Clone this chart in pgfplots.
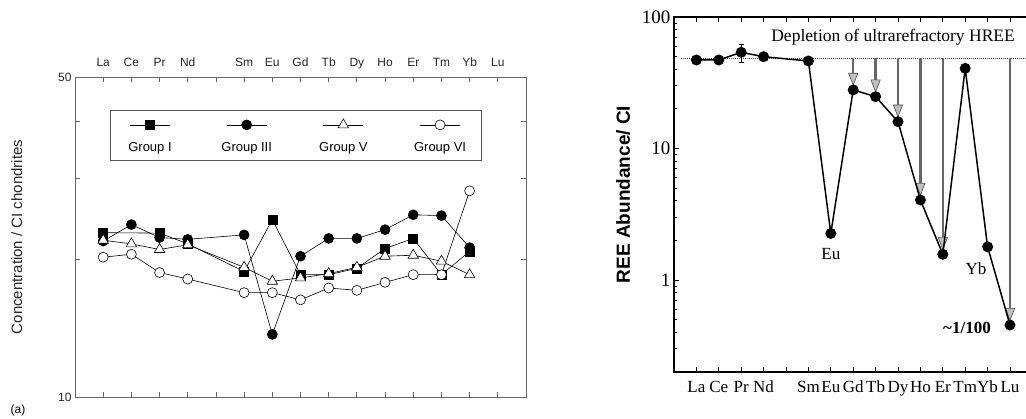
\documentclass[border=0pt]{standalone}
\usepackage{fontspec}
\setmainfont{Liberation Sans}
\newfontfamily\serif{Liberation Serif}
\usepackage{pgfplots}
\usepackage{pgfplotstable}
\pgfplotsset{compat=1.18}
\usetikzlibrary{arrows.meta}

% (a) chondrite-normalised REE, four groups
\pgfplotstableread{
x   gI     gIII   gV     gVI
1   22.85  21.9   22.0   20.2
2   nan    23.8   21.6   20.5
3   22.8   22.3   21.0   18.7
4   21.6   22.1   21.5   18.1
6   18.8   22.6   19.2   16.9
7   24.4   13.7   17.9   16.9
8   18.5   20.3   18.2   16.3
9   18.5   22.2   18.6   17.3
10  19.1   22.2   19.2   17.1
11  21.1   23.2   20.3   17.8
12  22.2   25.0   20.4   18.5
13  18.5   24.9   19.8   18.5
14  20.8   21.2   18.5   28.2
}\groupdata

\pgfplotsset{
  grp legend/.style={legend image code/.code={
    \path[draw=none, fill=none] (-40pt,-20pt) rectangle (40pt,20pt);
    \draw[mark repeat=2,mark phase=2,##1] plot coordinates {(-20pt,11pt) (0pt,11pt) (20pt,11pt)};
    \node[inner sep=0pt, draw=none, font=\fontsize{13}{15}\selectfont, black] at (0pt,-12pt) {#1};
  }},
  arr/.style={black!60, line width=2.3pt, shorten >=4pt,
    -{Triangle[length=13pt,width=10pt,fill=gray!50,color=black!70,line width=0.6pt]}},
}

\begin{document}
\begin{tikzpicture}
\useasboundingbox (0pt,0pt) rectangle (1026pt,419pt);

\begin{axis}[
  at={(75pt,22pt)}, anchor=south west, scale only axis,
  width=451pt, height=320pt,
  xmin=0, xmax=16, ymode=log, ymin=10, ymax=50,
  xtick={1,...,15}, xticklabels={La,Ce,Pr,Nd,,Sm,Eu,Gd,Tb,Dy,Ho,Er,Tm,Yb,Lu},
  xticklabel pos=right,
  ytick={10,20,30,40,50}, yticklabels={10,,,,50},
  tick align=inside, major tick length=5pt,
  axis line style={gray!80!black, line width=0.9pt},
  every tick/.style={gray!80!black, line width=0.8pt},
  tick label style={font=\fontsize{12}{14}\selectfont, black!85},
  xticklabel style={yshift=5pt, text height=1.6ex, text depth=0.4ex},
  ylabel={Concentration / CI chondrites},
  ylabel style={font=\fontsize{15}{17}\selectfont, black!85, at={(axis description cs:-0.129,0.5)}, anchor=center},
  legend columns=4,
  legend style={at={(0.489,0.816)}, anchor=center, draw=gray!70!black, line width=0.8pt,
    inner xsep=0pt, inner ysep=5pt, nodes={inner sep=0pt},
    /tikz/every even column/.append style={column sep=15.7pt}},
]
\addlegendimage{black, line width=0.6pt, mark=square*, mark size=4.5pt, grp legend={Group I}}
\addlegendentry{}
\addlegendimage{black, line width=0.6pt, mark=*, mark size=5pt, grp legend={Group III}}
\addlegendentry{}
\addlegendimage{black, line width=0.6pt, mark=triangle*, mark size=6pt, mark options={fill=white}, grp legend={Group V}}
\addlegendentry{}
\addlegendimage{black, line width=0.6pt, mark=*, mark size=5pt, mark options={fill=white}, grp legend={Group VI}}
\addlegendentry{}

\addplot[black, line width=0.6pt, mark=*, mark size=5pt, forget plot] table[x=x,y=gIII] {\groupdata};
\addplot[black, line width=0.6pt, mark=square*, mark size=4.5pt, forget plot] table[x=x,y=gI] {\groupdata};
\addplot[black, line width=0.6pt, mark=triangle*, mark size=6pt, mark options={fill=white}, forget plot] table[x=x,y=gV] {\groupdata};
\addplot[black, line width=0.6pt, mark=*, mark size=5pt, mark options={fill=white}, forget plot] table[x=x,y=gVI] {\groupdata};
\end{axis}

\node[font=\fontsize{12}{14}\selectfont] at (18pt,9pt) {(a)};

\begin{axis}[
  at={(674pt,47pt)}, anchor=south west, scale only axis,
  width=358.4pt, height=355pt,
  xmin=0, xmax=16, ymode=log, ymin=0.2, ymax=100,
  xtick={1,...,15}, xticklabels={La,Ce,Pr,Nd,,Sm,Eu,Gd,Tb,Dy,Ho,Er,Tm,Yb,Lu},
  ytick={1,10,100}, yticklabels={1,10,100},
  minor ytick={0.2,0.3,0.4,0.5,0.6,0.7,0.8,0.9,2,3,4,5,6,7,8,9,20,30,40,50,60,70,80,90},
  tick align=inside, major tick length=5pt, minor tick length=3pt,
  ytick pos=left,
  axis line style={line width=1.5pt},
  every tick/.style={black, line width=0.9pt},
  xticklabel style={font=\serif\fontsize{17}{20}\selectfont, yshift=-9pt, text height=1.6ex, text depth=0.4ex},
  yticklabel style={font=\serif\fontsize{19}{22}\selectfont},
  ylabel={REE Abundance/ CI},
  ylabel style={font=\bfseries\fontsize{19}{22}\selectfont, at={(axis description cs:-0.142,0.5)}, anchor=center},
]
\addplot[black!70, densely dotted, line width=1pt] coordinates {(0.3,48.5) (16,48.5)};
\addplot[arr] coordinates {(8,48.5) (8,27.9)};
\addplot[arr] coordinates {(9,48.5) (9,24.8)};
\addplot[arr] coordinates {(10,48.5) (10,16.0)};
\addplot[arr] coordinates {(11,48.5) (11,4.06)};
\addplot[arr] coordinates {(12,48.5) (12,1.57)};
\addplot[arr] coordinates {(15,48.5) (15,0.455)};
\addplot[draw=none, mark=none, error bars/.cd, y dir=both, y explicit,
  error bar style={black, line width=0.8pt}, error mark options={rotate=90, mark size=2.5pt, black}]
  coordinates {(3,53.9) +- (0,8.4)};
\addplot[black, line width=1.5pt, mark=*, mark size=4.7pt] coordinates {
  (1,47.1) (2,47.1) (3,53.9) (4,49.9) (6,46.3) (7,2.26) (8,27.9) (9,24.8)
  (10,16.0) (11,4.06) (12,1.57) (13,40.7) (14,1.79) (15,0.455)};
\node[font=\serif\fontsize{17.5}{20}\selectfont] at (axis cs:9.78,70.4) {Depletion of ultrarefractory HREE};
\node[font=\serif\fontsize{17}{20}\selectfont] at (axis cs:7.0,1.58) {Eu};
\node[font=\serif\fontsize{17}{20}\selectfont] at (axis cs:13.48,1.23) {Yb};
\node[font=\serif\bfseries\fontsize{17}{20}\selectfont] at (axis cs:13.08,0.431) {\textasciitilde1/100};
\end{axis}
\end{tikzpicture}
\end{document}
